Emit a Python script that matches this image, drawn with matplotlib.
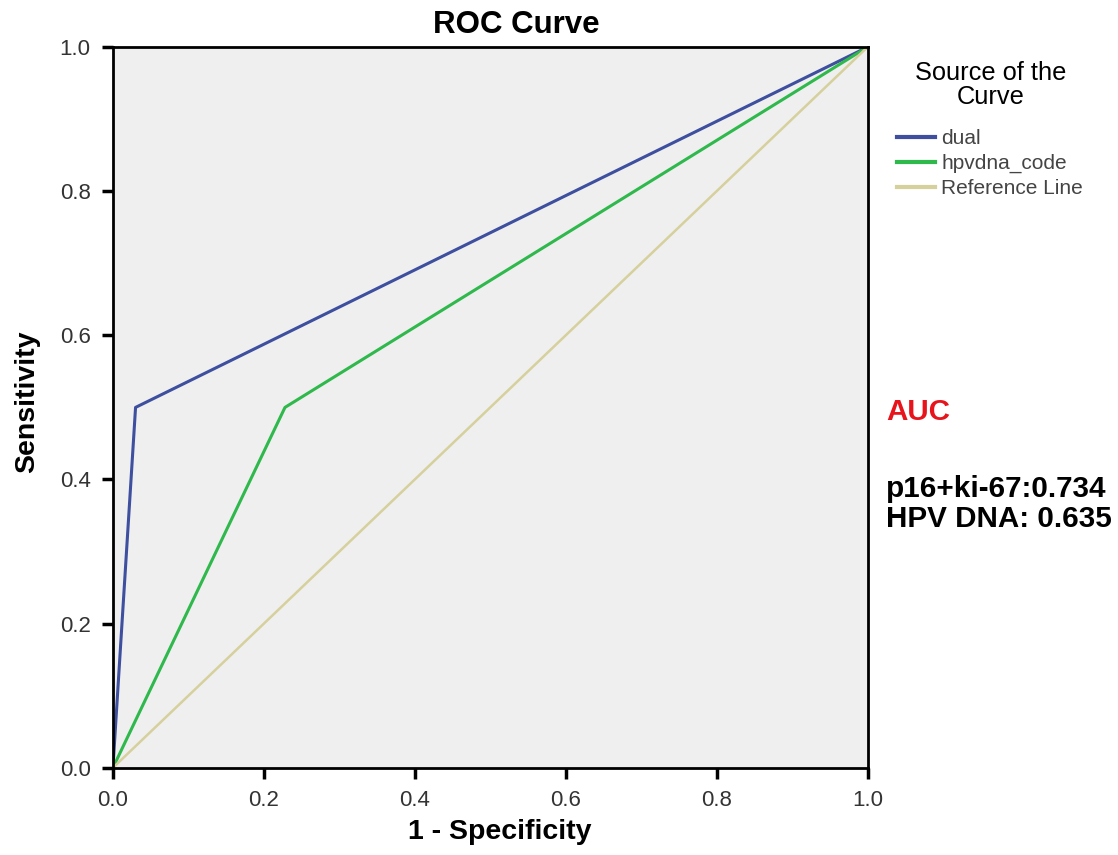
import matplotlib
matplotlib.use("Agg")
import matplotlib.pyplot as plt


# ROC points
DUAL_FPR = [0.0, 0.03, 1.0]
DUAL_TPR = [0.0, 0.50, 1.0]
HPV_FPR = [0.0, 0.228, 1.0]
HPV_TPR = [0.0, 0.50, 1.0]
REF = [0.0, 1.0]

SERIES_LABELS = ["dual", "hpvdna_code", "Reference Line"]
TICKS = [0.0, 0.2, 0.4, 0.6, 0.8, 1.0]
AUC_LINES = ["p16+ki-67:0.734", "HPV DNA: 0.635"]

BLUE = "#3d4f9e"
GREEN = "#2fb84c"
TAN = "#d6d09c"

W, H = 1118, 855


def main():
    plt.rcParams["font.family"] = ["Liberation Sans", "DejaVu Sans"]

    fig = plt.figure(figsize=(W / 100, H / 100), dpi=100)
    ax = fig.add_axes([0.101, 0.102, 0.675, 0.843])
    ax.set_facecolor("#efefef")

    ax.plot(DUAL_FPR, DUAL_TPR, color=BLUE, lw=2.2, label=SERIES_LABELS[0])
    ax.plot(HPV_FPR, HPV_TPR, color=GREEN, lw=2.2, label=SERIES_LABELS[1])
    ax.plot(REF, REF, color=TAN, lw=1.8, label=SERIES_LABELS[2])

    ax.set_xlim(0, 1)
    ax.set_ylim(0, 1)
    ax.set_xticks(TICKS)
    ax.set_yticks(TICKS)
    ax.set_xticklabels([f"{t:.1f}" for t in TICKS])
    ax.set_yticklabels([f"{t:.1f}" for t in TICKS])
    ax.tick_params(direction="out", length=8, width=2.5, labelsize=16,
                   labelcolor="#333333")
    ax.tick_params(axis="x", pad=8)
    ax.tick_params(axis="y", pad=8)
    for s in ax.spines.values():
        s.set_linewidth(2)

    fig.text(516 / W, 1 - 25 / H, "ROC Curve", fontsize=22.5, fontweight="bold",
             ha="center", va="center")
    fig.text(500 / W, 1 - 832 / H, "1 - Specificity", fontsize=20.5,
             fontweight="bold", ha="center", va="center")
    fig.text(27 / W, 1 - 402 / H, "Sensitivity", fontsize=20.5, fontweight="bold",
             ha="center", va="center", rotation=90)

    # legend title as separate text so it can be centred like the original
    fig.text(991 / W, 1 - 85 / H, "Source of the\nCurve", fontsize=18.3,
             ha="center", va="center", linespacing=1.0)
    leg = ax.legend(loc="upper left", bbox_to_anchor=(897 / W, 1 - 129 / H),
                    bbox_transform=fig.transFigure, frameon=False, fontsize=15,
                    handlelength=1.8, handletextpad=0.33, labelspacing=0.28,
                    borderpad=0, borderaxespad=0)
    for t in leg.get_texts():
        t.set_color("#444444")
    for l in leg.get_lines():
        l.set_linewidth(3)

    fig.text(886 / W, 1 - 412 / H, "AUC", color="#e8141c", fontsize=21.3,
             fontweight="bold", va="center")
    for i, line in enumerate(AUC_LINES):
        fig.text(886 / W, 1 - (489 + 30 * i) / H, line, fontsize=21.3,
                 fontweight="bold", va="center")

    fig.savefig("out.png", dpi=100)


if __name__ == "__main__":
    main()
